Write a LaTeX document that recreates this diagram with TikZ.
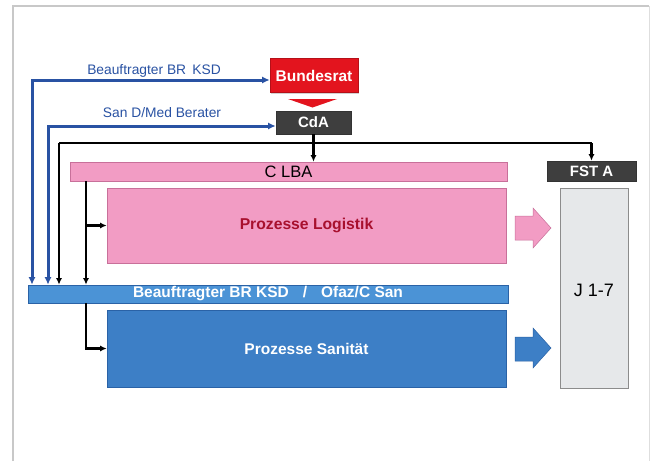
\documentclass[tikz,border=0pt]{standalone}
\usepackage{fontspec}
\setmainfont{Liberation Sans}
\usetikzlibrary{arrows.meta,shadows}
\definecolor{brred}{HTML}{E3141E}
\definecolor{darkbox}{HTML}{3E3E3E}
\definecolor{pinkfill}{HTML}{F29CC4}
\definecolor{pinkedge}{HTML}{C8709A}
\definecolor{logtext}{HTML}{A8102E}
\definecolor{bluefill}{HTML}{3D7FC6}
\definecolor{blueedge}{HTML}{2A62A6}
\definecolor{barfill}{HTML}{4B93D6}
\definecolor{linkblue}{HTML}{2952A3}
\definecolor{jfill}{HTML}{E6E8EA}
\definecolor{frame}{HTML}{C8C8C8}
\tikzset{
  box/.style={rectangle, inner sep=0pt, draw, line width=0.6pt,
    drop shadow={shadow xshift=1.2pt, shadow yshift=-1.2pt, opacity=0.35}},
  redbox/.style={box, fill=brred, draw=brred!80!black, text=white, font=\bfseries\fontsize{15.5}{18}\selectfont},
  darkbx/.style={box, fill=darkbox, draw=black!80, text=white, font=\bfseries\fontsize{15}{18}\selectfont},
  pinkbx/.style={box, fill=pinkfill, draw=pinkedge},
  bluebx/.style={box, fill=bluefill, draw=blueedge, text=white, font=\bfseries\fontsize{15.5}{18}\selectfont},
  blink2/.style={draw=linkblue, line width=3pt, {Latex[length=7.5pt,width=7pt]}-{Latex[length=7.5pt,width=7pt]}},
  klink/.style={draw=black, line width=2.2pt, -{Latex[length=6.5pt,width=6pt]}},
  klbl/.style={text=linkblue, font=\fontsize{13.8}{16}\selectfont},
}
\begin{document}
\begin{tikzpicture}[x=1pt,y=-1pt]
\useasboundingbox (0,0) rectangle (651,461);
\fill[white] (0,0) rectangle (651,461);
% frame
\draw[frame, line width=2.5pt] (13,461) -- (13,6) -- (649,6);
\draw[frame!60, line width=1pt] (649,6) -- (649,461);

% nodes
\node[redbox, minimum width=88pt, minimum height=34pt] (br) at (314,75.5) {Bundesrat};
\node[darkbx, minimum width=75pt, minimum height=23pt] (cda) at (313.5,122.5) {CdA};
\node[pinkbx, minimum width=437pt, minimum height=19pt, font=\fontsize{16.5}{18}\selectfont] (clba) at (288.5,171.5) {C LBA};
\node[pinkbx, minimum width=399pt, minimum height=75pt, text=logtext, font=\bfseries\fontsize{15.7}{18}\selectfont] (logi) at (306.5,225.5) {Prozesse Logistik};
\node[box, fill=barfill, draw=blueedge, minimum width=480pt, minimum height=18pt, text=white, font=\bfseries\fontsize{15.5}{17}\selectfont] (bar) at (268,294) {Beauftragter BR KSD\hspace{0.9em}/\hspace{0.9em}Ofaz/C San};
\node[bluebx, minimum width=399pt, minimum height=77pt] (sani) at (306.5,348.5) {Prozesse Sanität};
\node[darkbx, minimum width=89pt, minimum height=20pt] (fst) at (591.5,171) {FST A};
\node[box, fill=jfill, draw=black!45, minimum width=68pt, minimum height=200pt] (j) at (594,288) {};
\node[font=\fontsize{18}{21}\selectfont] (jt) at (594,290) {J 1-7};

% red triangle under Bundesrat
\fill[brred] (288,99) -- (337,99) -- (312.5,107.5) -- cycle;

% block arrows
\filldraw[fill=pinkfill, draw=pinkedge, line width=0.5pt]
  (515,216) -- (533,216) -- (533,208) -- (551,228) -- (533,248) -- (533,240) -- (515,240) -- cycle;
\filldraw[fill=bluefill, draw=blueedge, line width=0.5pt]
  (515,337) -- (533,337) -- (533,328) -- (551,348) -- (533,368) -- (533,361) -- (515,361) -- cycle;

% coordinates for vertical feeders
\coordinate (x1) at (32,0);
\coordinate (x2) at (48,0);
\coordinate (x3) at (59,143);
\coordinate (x4) at (86,0);

% blue links with labels
\draw[blink2] ([yshift=-4.5pt]br.west) -| (x1 |- bar.north);
\node[klbl] (l1) at (154,71) {Beauftragter BR\, KSD};
\draw[blink2] ([yshift=-3.5pt]cda.west) -| (x2 |- bar.north);
\node[klbl] (l2) at (162,113) {San D/Med Berater};

% black links
\draw[klink] (cda.south) -- (cda.south |- clba.north);
\draw[klink, line width=2.8pt] (x3 -| fst.north) -- (fst.north);
\draw[black, line width=2.8pt] (x3) -- (x3 -| fst.north);
\draw[klink] (x3) -- (x3 |- bar.north);
\draw[klink] (x4 |- clba.south) -- (x4 |- bar.north);
\draw[klink] (x4 |- logi.west) -- (logi.west);
\draw[klink] (x4 |- bar.south) -- (x4 |- sani.west) -- (sani.west);
\end{tikzpicture}
\end{document}
